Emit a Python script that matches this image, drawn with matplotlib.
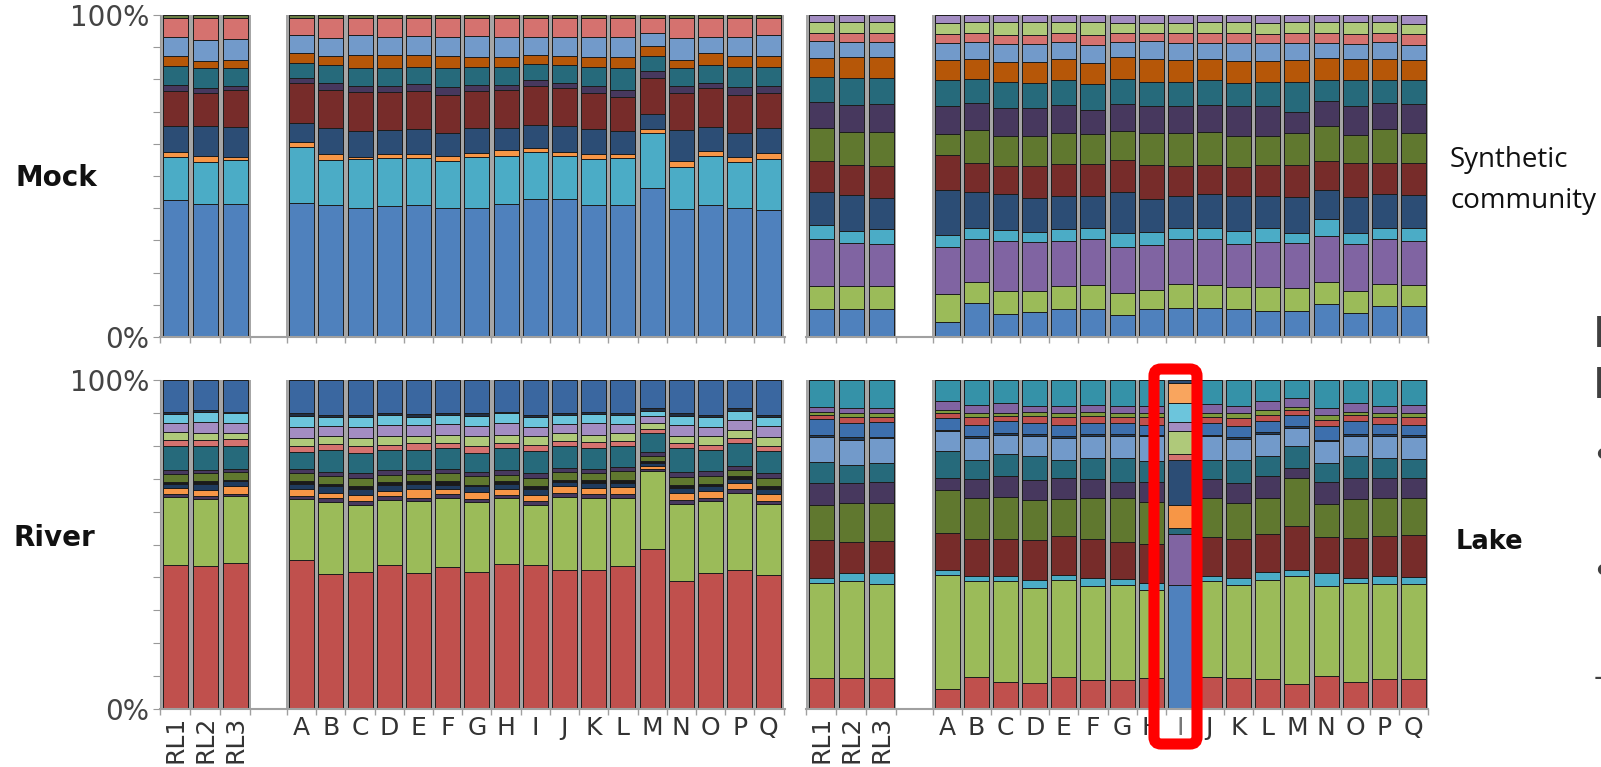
import matplotlib.pyplot as plt
from matplotlib.patches import FancyBboxPatch
import matplotlib.transforms as mtransforms
import numpy as np

samples = ["RL1", "RL2", "RL3"] + list("ABCDEFGHIJKLMNOPQ")

# ---- Mock community (top left), % per taxon, bottom -> top
mock_blue = [42.6, 41.4, 41.4, 41.6, 40.7, 40.0, 40.5, 41.0, 40.2, 40.2, 41.2, 42.8, 42.8, 40.9, 40.9, 46.1, 39.7, 40.9, 40.2, 39.5]
mock_cyan = [13.4, 13.1, 13.4, 17.6, 13.8, 15.2, 15.0, 14.6, 14.4, 15.8, 14.9, 14.6, 13.4, 14.4, 14.7, 17.1, 13.2, 15.5, 14.1, 15.9]
mock_orange = [1.6, 1.6, 1.0, 1.6, 1.8, 0.8, 1.3, 1.3, 1.5, 1.2, 1.9, 1.3, 1.2, 1.6, 1.3, 1.2, 1.8, 1.3, 1.6, 1.6]
mock_navy = [8.0, 9.3, 9.5, 5.9, 8.1, 8.1, 7.4, 7.7, 7.2, 7.7, 6.9, 7.2, 8.2, 7.6, 6.9, 4.6, 9.6, 7.5, 7.4, 7.9]
mock_dkred = [11.0, 10.3, 11.4, 12.2, 11.6, 12.1, 11.9, 11.9, 11.9, 11.6, 11.9, 12.1, 11.6, 11.3, 10.8, 11.3, 11.5, 12.1, 11.9, 11.0]
mock_dkpurple = [1.8, 1.6, 1.3, 1.6, 2.1, 1.8, 1.8, 2.0, 2.4, 1.8, 1.5, 1.9, 1.5, 2.1, 2.1, 2.1, 2.3, 1.8, 2.4, 1.9]
mock_teal = [5.7, 6.2, 5.4, 4.7, 5.5, 5.5, 5.5, 5.2, 5.9, 5.7, 5.7, 4.9, 5.7, 6.0, 6.7, 4.6, 5.5, 5.5, 6.4, 6.2]
mock_dkorange = [3.3, 2.3, 2.6, 3.1, 2.8, 4.1, 4.1, 4.0, 3.8, 3.1, 2.9, 2.8, 2.8, 3.1, 3.4, 3.3, 2.6, 3.6, 3.3, 3.3]
mock_ltblue = [5.8, 6.5, 6.4, 5.7, 5.5, 6.2, 5.7, 5.8, 6.0, 6.4, 6.2, 5.7, 6.0, 6.2, 6.2, 3.9, 6.7, 5.2, 5.8, 6.5]
mock_pink = [5.9, 6.7, 6.5, 5.2, 6.2, 5.2, 5.7, 5.5, 5.7, 5.5, 5.9, 5.7, 5.7, 5.7, 5.9, 4.6, 6.2, 5.7, 5.9, 5.2]
mock_other = [1.0] * 20

# ---- Synthetic community (top right)
syn_blue = [8.6, 8.8, 8.8, 4.6, 10.6, 7.2, 7.7, 8.6, 8.8, 6.7, 8.8, 9.0, 9.0, 8.6, 8.2, 8.2, 10.3, 7.5, 9.6, 9.6]
syn_green = [7.2, 7.0, 7.0, 8.8, 6.6, 7.2, 6.7, 7.4, 7.2, 7.0, 5.7, 7.5, 7.2, 6.9, 7.2, 6.9, 6.7, 6.9, 6.9, 6.6]
syn_purple = [14.6, 13.4, 13.1, 14.4, 13.2, 15.5, 15.2, 13.9, 14.4, 14.1, 14.1, 13.9, 14.4, 13.4, 14.1, 14.2, 14.4, 14.4, 13.9, 13.7]
syn_cyan = [4.3, 3.8, 4.6, 3.8, 3.6, 3.4, 3.1, 3.8, 3.3, 4.6, 3.9, 3.6, 3.4, 4.1, 4.4, 3.1, 5.2, 3.6, 3.6, 3.8]
syn_navy = [10.3, 11.0, 9.8, 14.2, 11.0, 11.0, 10.6, 10.1, 10.1, 12.6, 10.3, 9.8, 10.3, 10.8, 9.8, 11.1, 9.1, 11.1, 10.3, 10.3]
syn_dkred = [9.6, 9.3, 9.8, 10.8, 9.1, 8.8, 10.0, 10.1, 9.8, 10.1, 10.8, 9.5, 9.3, 9.1, 9.8, 10.0, 9.0, 10.5, 9.6, 10.1]
syn_olive = [10.3, 10.3, 10.5, 6.5, 10.3, 9.3, 9.1, 9.5, 9.3, 8.8, 9.8, 10.1, 10.0, 9.7, 8.8, 10.0, 10.8, 8.8, 10.7, 9.3]
syn_dkpurple = [8.2, 8.6, 8.9, 8.7, 8.2, 8.8, 8.8, 8.8, 7.7, 8.6, 8.5, 8.5, 8.6, 9.1, 9.5, 6.5, 7.7, 9.0, 8.0, 9.1]
syn_teal = [7.5, 8.2, 7.9, 8.0, 7.4, 8.2, 7.7, 7.7, 8.0, 7.6, 7.5, 7.5, 7.7, 7.4, 7.5, 9.3, 6.7, 8.0, 7.2, 7.4]
syn_dkorange = [6.2, 6.7, 6.5, 6.2, 6.2, 6.2, 6.7, 6.4, 6.6, 6.8, 6.9, 6.7, 6.4, 6.8, 6.5, 6.7, 6.7, 6.4, 6.4, 6.2]
syn_ltblue = [5.2, 4.6, 4.8, 5.2, 5.5, 5.5, 5.5, 5.5, 5.5, 4.8, 5.8, 5.2, 5.2, 5.6, 5.6, 5.4, 4.8, 4.7, 5.5, 4.6]
syn_pink = [2.3, 2.6, 2.6, 2.9, 2.6, 2.8, 2.8, 2.8, 3.1, 2.6, 2.3, 3.1, 2.9, 2.9, 2.7, 2.9, 2.9, 3.1, 2.6, 3.4]
syn_ltgreen = [3.6, 3.6, 3.6, 3.5, 3.6, 4.1, 4.1, 3.4, 4.1, 3.3, 3.3, 3.3, 3.6, 3.6, 3.5, 3.6, 3.6, 3.8, 3.6, 3.1]
syn_ltpurple = [2.1, 2.1, 2.1, 2.4, 2.1, 2.1, 2.1, 2.1, 2.1, 2.4, 2.4, 2.4, 2.1, 2.1, 2.4, 2.1, 2.1, 2.1, 2.1, 2.8]

# ---- River (bottom left)
riv_red = [43.8, 43.3, 44.3, 45.1, 40.8, 41.5, 43.5, 41.3, 43.1, 41.5, 43.8, 43.5, 42.1, 42.1, 43.3, 48.6, 38.8, 41.3, 42.1, 40.5]
riv_green = [20.5, 20.2, 20.2, 18.4, 22.0, 20.2, 19.8, 21.8, 21.0, 21.3, 20.2, 18.2, 22.3, 22.0, 20.7, 23.6, 23.3, 21.8, 23.5, 21.6]
riv_dkpurple_a = [1.2, 1.0, 0.8, 1.0, 1.3, 1.3, 1.2, 1.0, 1.0, 1.0, 1.0, 1.3, 1.2, 1.0, 1.3, 0.7, 1.3, 1.0, 1.0, 1.0]
riv_orange = [1.8, 1.8, 2.2, 2.2, 1.5, 1.7, 1.5, 2.5, 1.7, 2.0, 1.7, 2.0, 2.0, 2.0, 2.0, 1.0, 2.0, 2.0, 2.0, 2.0]
riv_navy = [1.2, 2.0, 1.5, 1.6, 2.0, 2.0, 2.0, 1.8, 1.3, 1.8, 1.6, 1.7, 1.2, 1.5, 1.2, 0.8, 1.7, 1.5, 1.2, 1.7]
riv_black = [0.5, 0.7, 0.5, 0.7, 0.8, 0.8, 0.7, 0.7, 1.0, 0.5, 0.7, 0.8, 0.8, 0.8, 1.0, 0.5, 0.7, 0.8, 0.8, 0.8]
riv_olive = [2.5, 2.5, 2.2, 2.5, 2.2, 2.5, 2.3, 2.3, 2.5, 2.5, 2.0, 2.5, 2.2, 2.2, 2.5, 1.7, 2.6, 2.2, 2.0, 2.5]
riv_dkpurple_b = [1.2, 1.0, 1.0, 1.2, 1.2, 1.5, 1.3, 1.2, 1.2, 1.2, 1.5, 1.5, 1.3, 1.2, 1.3, 1.0, 1.4, 1.5, 1.0, 1.5]
riv_teal = [7.1, 7.1, 6.9, 5.1, 6.9, 6.1, 6.1, 6.1, 6.4, 5.9, 6.6, 6.6, 6.6, 6.4, 6.3, 5.9, 7.4, 6.4, 7.1, 6.6]
riv_pink = [2.0, 2.0, 2.2, 1.8, 1.8, 2.2, 1.7, 2.0, 1.5, 2.2, 1.5, 2.0, 1.5, 1.7, 1.5, 1.2, 1.5, 1.7, 1.5, 1.5]
riv_ltgreen = [2.3, 2.0, 1.8, 2.5, 2.4, 2.3, 2.7, 2.2, 2.5, 3.0, 2.5, 2.5, 2.5, 2.3, 2.5, 1.8, 2.2, 2.5, 2.3, 2.8]
riv_ltpurple = [2.7, 3.5, 3.0, 3.5, 2.8, 3.3, 3.3, 3.3, 3.3, 2.8, 3.7, 3.0, 2.8, 3.5, 2.8, 2.2, 3.3, 2.8, 3.2, 3.2]
riv_ltcyan = [3.0, 3.0, 3.0, 3.2, 2.8, 3.0, 3.0, 2.5, 2.7, 3.2, 2.8, 2.8, 2.7, 2.8, 2.7, 1.6, 2.7, 3.0, 2.8, 2.8]
riv_dark = [0.6, 0.5, 0.5, 0.8, 0.7, 0.7, 0.7, 0.8, 0.7, 0.8, 0.5, 0.7, 0.7, 0.7, 0.7, 0.7, 0.8, 0.7, 0.7, 0.7]
riv_blue = [9.6, 9.1, 9.6, 10.1, 10.6, 10.6, 9.9, 10.3, 9.9, 10.1, 9.6, 10.6, 9.9, 9.6, 9.9, 8.6, 10.1, 10.6, 8.6, 10.6]

# ---- Lake (bottom right); sample I has its own profile below
lake_red = [9.4, 9.4, 9.4, 6.1, 9.7, 8.1, 7.9, 9.7, 8.9, 8.9, 9.4, 0, 9.7, 9.4, 9.1, 7.7, 9.9, 8.1, 9.1, 9.1]
lake_green = [29.0, 29.4, 28.6, 34.7, 29.0, 30.7, 28.8, 29.6, 28.5, 28.8, 26.8, 0, 29.0, 28.3, 30.2, 32.8, 27.5, 30.2, 28.9, 28.9]
lake_cyan = [1.3, 2.5, 3.2, 1.5, 1.7, 1.5, 2.3, 1.5, 2.3, 1.7, 2.0, 0, 1.7, 2.0, 2.2, 1.6, 3.8, 1.5, 2.4, 2.2]
lake_dkred = [11.8, 9.6, 9.9, 11.1, 11.1, 11.3, 12.3, 11.8, 11.8, 11.4, 11.9, 0, 11.9, 11.8, 11.7, 13.4, 11.1, 12.1, 12.1, 12.7]
lake_olive = [10.4, 11.6, 11.3, 13.2, 12.4, 12.8, 12.1, 11.1, 12.4, 13.2, 12.9, 0, 11.6, 11.1, 10.8, 14.7, 9.9, 11.8, 11.4, 11.1]
lake_dkpurple = [6.8, 6.3, 6.6, 3.5, 5.8, 6.3, 6.1, 6.4, 5.8, 4.8, 5.8, 0, 5.8, 6.1, 6.6, 3.0, 6.8, 6.4, 6.1, 6.1]
lake_teal = [6.4, 5.4, 5.6, 8.1, 5.7, 6.9, 7.1, 5.6, 6.4, 7.4, 6.4, 0, 5.9, 6.7, 6.1, 6.6, 5.6, 6.6, 6.1, 5.8]
lake_ltblue = [7.6, 7.6, 7.6, 6.1, 6.8, 5.8, 6.3, 6.6, 6.8, 6.8, 7.6, 0, 7.1, 6.5, 6.9, 5.6, 6.6, 6.3, 6.8, 6.7]
lake_navy = [0.7, 0.8, 0.5, 0.5, 0.5, 0.5, 0.5, 0.5, 0.5, 0.5, 0.5, 0, 0.5, 0.5, 0.5, 0.5, 0.5, 0.5, 0.5, 0.5]
lake_midblue = [4.6, 4.3, 4.3, 3.5, 3.5, 3.5, 3.3, 3.5, 3.3, 3.3, 3.0, 0, 3.7, 3.5, 3.5, 3.5, 4.0, 3.8, 3.1, 3.2]
lake_redline = [1.4, 1.8, 1.6, 1.5, 2.3, 1.7, 2.2, 2.3, 2.2, 2.0, 2.3, 0, 1.8, 2.3, 1.7, 1.5, 2.0, 2.0, 2.0, 2.3]
lake_oliveline = [1.0, 1.2, 1.2, 1.0, 1.2, 1.0, 1.3, 1.4, 1.3, 1.2, 1.2, 0, 1.2, 1.5, 1.5, 0.8, 1.5, 1.0, 1.2, 1.2]
lake_purpleline = [1.3, 1.5, 1.5, 2.8, 2.5, 2.8, 1.7, 2.0, 2.0, 2.0, 2.2, 0, 2.6, 2.2, 2.8, 2.7, 2.0, 2.5, 2.2, 2.5]
lake_topteal = [8.3, 8.6, 8.6, 6.3, 7.6, 7.1, 7.9, 7.9, 7.6, 7.9, 7.9, 0, 7.3, 7.9, 6.3, 5.6, 8.6, 7.1, 7.9, 7.6]

lake_I_values = [37.8, 15.5, 1.7, 7.1, 13.7, 1.8, 6.8, 2.7, 5.9, 6.1, 1.0]
lake_I_colors = ["#4F81BD", "#8064A2", "#276A7C", "#F79646", "#2C4D75", "#D5726F",
                 "#AFC97A", "#A38DC2", "#6CC5DC", "#F9A55E", "#2C4D75"]

BLUE, CYAN, ORANGE, NAVY = "#4F81BD", "#4BACC6", "#F79646", "#2C4D75"
DKRED, DKPURPLE, TEAL, DKORANGE = "#772C2A", "#47385E", "#266A7B", "#B65708"
LTBLUE, PINK, RED, GREEN = "#729ACA", "#D5726F", "#C0504D", "#9BBB59"
OLIVE, PURPLE, LTPURPLE, LTGREEN = "#60782F", "#8064A2", "#A38DC2", "#AFC97A"
LTCYAN, RIVBLUE, MIDBLUE, TOPTEAL = "#6CC5DC", "#3A67A0", "#3D6FAD", "#3592A8"

mock_layers = [(mock_blue, BLUE), (mock_cyan, CYAN), (mock_orange, ORANGE), (mock_navy, NAVY),
               (mock_dkred, DKRED), (mock_dkpurple, DKPURPLE), (mock_teal, TEAL),
               (mock_dkorange, DKORANGE), (mock_ltblue, LTBLUE), (mock_pink, PINK),
               (mock_other, "#6B7F45")]
syn_layers = [(syn_blue, BLUE), (syn_green, GREEN), (syn_purple, PURPLE), (syn_cyan, CYAN),
              (syn_navy, NAVY), (syn_dkred, DKRED), (syn_olive, OLIVE), (syn_dkpurple, DKPURPLE),
              (syn_teal, TEAL), (syn_dkorange, DKORANGE), (syn_ltblue, LTBLUE), (syn_pink, PINK),
              (syn_ltgreen, LTGREEN), (syn_ltpurple, LTPURPLE)]
riv_layers = [(riv_red, RED), (riv_green, GREEN), (riv_dkpurple_a, DKPURPLE), (riv_orange, ORANGE),
              (riv_navy, "#1F3B5E"), (riv_black, "#1A1A1A"), (riv_olive, OLIVE),
              (riv_dkpurple_b, DKPURPLE), (riv_teal, TEAL), (riv_pink, PINK), (riv_ltgreen, LTGREEN),
              (riv_ltpurple, LTPURPLE), (riv_ltcyan, LTCYAN), (riv_dark, "#1F2F45"), (riv_blue, RIVBLUE)]
lake_layers = [(lake_red, RED), (lake_green, GREEN), (lake_cyan, CYAN), (lake_dkred, DKRED),
               (lake_olive, OLIVE), (lake_dkpurple, DKPURPLE), (lake_teal, TEAL),
               (lake_ltblue, LTBLUE), (lake_navy, "#1F3A5A"), (lake_midblue, MIDBLUE),
               (lake_redline, RED), (lake_oliveline, "#7E9A3E"), (lake_purpleline, PURPLE),
               (lake_topteal, TOPTEAL)]

# three replicates, a gap, then the 17 kits
xpos = np.array([0.52, 1.55, 2.58] + [4.85 + i for i in range(17)])

W, H = 1601, 767
fig = plt.figure(figsize=(W / 100, H / 100), dpi=100)
plt.rcParams["font.family"] = "DejaVu Sans"


def px_axes(x0, y0, x1, y1):
    return fig.add_axes([x0 / W, 1 - y1 / H, (x1 - x0) / W, (y1 - y0) / H])


def draw_stack(ax, x, layers):
    vals = np.array([v for v, c in layers], dtype=float)
    tot = vals.sum(axis=0)
    vals = np.where(tot > 0, vals / np.where(tot > 0, tot, 1) * 100, 0)
    bottom = np.zeros(vals.shape[1])
    for row, (_, col) in zip(vals, layers):
        keep = row > 0
        ax.bar(x[keep], row[keep], bottom=bottom[keep], width=0.86, color=col,
               edgecolor="#1c1c1c", linewidth=0.7, zorder=2)
        bottom += row


def style_axes(ax, xmax, show_y, labels):
    ax.bar(xpos, 100, width=1.05, color="#A6A6A6", zorder=1)
    ax.set_xlim(0, xmax)
    ax.set_ylim(0, 100)
    for s in ("top", "right"):
        ax.spines[s].set_visible(False)
    ax.spines["bottom"].set_color("#A0A0A0")
    ax.spines["bottom"].set_linewidth(1.5)
    edges = [0.0]
    for a, b in zip(xpos[:-1], xpos[1:]):
        if b - a < 1.5:
            edges.append((a + b) / 2)
        else:
            edges += [a + 0.5, b - 0.5]
    edges.append(xpos[-1] + 0.5)
    ax.set_xticks(edges)
    ax.set_xticklabels([])
    ax.tick_params(axis="x", which="major", length=4, color="#A0A0A0", width=1)
    ax.set_xticks(xpos, labels if labels else [""] * len(xpos), minor=True)
    ax.tick_params(axis="x", which="minor", length=0, pad=5, labelsize=18, labelcolor="#333333")
    if labels:
        for t in ax.get_xticklabels(minor=True)[:3]:
            t.set_rotation(90)
    if show_y:
        ax.spines["left"].set_color("#999999")
        ax.set_yticks(range(0, 101, 10))
        ax.set_yticklabels(["0%"] + [""] * 9 + ["100%"])
        ax.tick_params(axis="y", length=5, color="#999999", labelsize=20,
                       labelcolor="#444444", pad=3)
    else:
        ax.spines["left"].set_visible(False)
        ax.set_yticks([])


ax_mock = px_axes(160, 15, 785, 337)
ax_syn = px_axes(806, 15, 1428, 337)
ax_riv = px_axes(160, 380, 785, 709)
ax_lake = px_axes(806, 380, 1428, 709)

style_axes(ax_mock, 21.4, True, None)
style_axes(ax_syn, 21.3, False, None)
style_axes(ax_riv, 21.4, True, samples)
style_axes(ax_lake, 21.3, False, samples)

draw_stack(ax_mock, xpos, mock_layers)
draw_stack(ax_syn, xpos, syn_layers)
draw_stack(ax_riv, xpos, riv_layers)
draw_stack(ax_lake, xpos, lake_layers)

# sample I of the lake series stands apart from the others
i_pos = xpos[samples.index("I")]
ax_lake.bar([i_pos] * len(lake_I_values), lake_I_values,
            bottom=np.concatenate([[0], np.cumsum(lake_I_values)[:-1]]),
            width=0.86, color=lake_I_colors, edgecolor="#1c1c1c", linewidth=0.7, zorder=2)
ax_lake.get_xticklabels(minor=True)[samples.index("I")].set_color("#777777")

box = FancyBboxPatch((1154, H - 744), 43, 375, boxstyle="round,pad=0,rounding_size=7",
                     transform=mtransforms.IdentityTransform(), fill=False,
                     edgecolor="#FF0000", linewidth=8, zorder=10)
fig.add_artist(box)

# row / column captions
cap = dict(fontsize=20, fontweight="bold", color="#111111", va="center")
fig.text(16 / W, 1 - 178 / H, "Mock", **cap)
fig.text(14 / W, 1 - 538 / H, "River", **cap)
fig.text(1456 / W, 1 - 542 / H, "Lake", **dict(cap, fontsize=18.5))
fig.text(1450 / W, 1 - 160 / H, "Synthetic", fontsize=20, family="Open Sans", color="#111111", va="center")
fig.text(1450 / W, 1 - 201 / H, "community", fontsize=20, family="Open Sans", color="#111111", va="center")

# slide text running off the right edge
for y, s in [(335, "E"), (386, "L")]:
    fig.text(1593 / W, 1 - y / H, s, fontsize=30, color="#404040", va="center")
for y in (457, 573):
    fig.text(1591 / W, 1 - y / H, "\u2022", fontsize=28, color="#404040", va="center")
fig.text(1594 / W, 1 - 678 / H, "-", fontsize=20, color="#404040", va="center")

fig.savefig("out.png", dpi=100)
